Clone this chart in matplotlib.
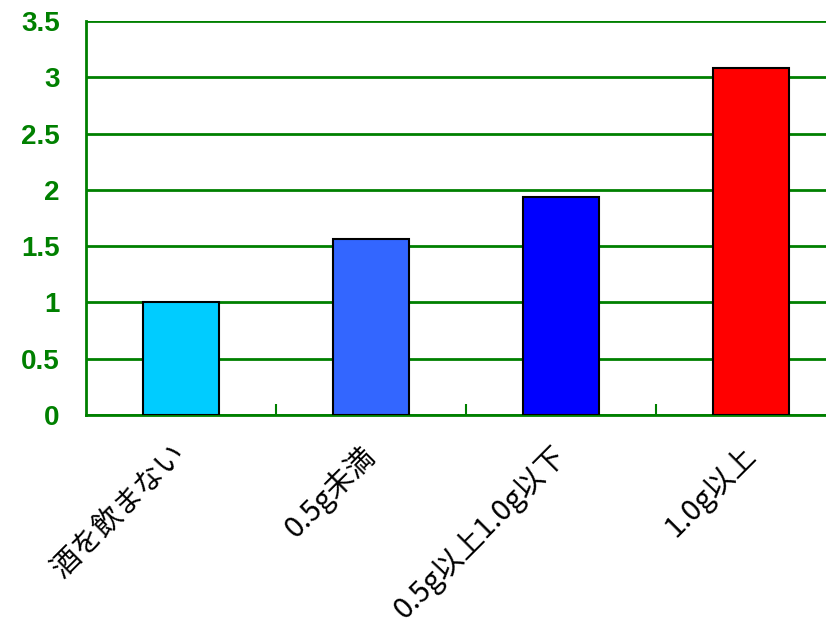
import matplotlib
matplotlib.use("Agg")
import matplotlib.pyplot as plt
from matplotlib.transforms import ScaledTranslation

categories = ["酒を飲まない", "0.5g未満", "0.5g以上1.0g以下", "1.0g以上"]
values = [1.0, 1.56, 1.94, 3.08]
bar_colors = ["#00CCFF", "#3366FF", "#0000FF", "#FF0000"]
y_ticks = [0, 0.5, 1, 1.5, 2, 2.5, 3, 3.5]
y_tick_labels = ["0", "0.5", "1", "1.5", "2", "2.5", "3", "3.5"]

green = "#008000"

fig = plt.figure(figsize=(8.26, 6.3), dpi=100)
ax = fig.add_axes([0.1041, 0.3413, 0.920, 0.6254])

x = range(len(categories))
ax.bar(x, values, width=0.4, color=bar_colors, edgecolor="black", linewidth=1.5, zorder=3)

ax.set_xlim(-0.5, len(categories) - 0.5)
ax.set_ylim(0, 3.5)
ax.set_yticks(y_ticks)
ax.set_yticklabels(y_tick_labels, fontsize=20, fontweight="bold", color=green,
                   family=["Liberation Sans", "DejaVu Sans"])
ax.yaxis.grid(True, color=green, linewidth=2, zorder=0)
ax.set_axisbelow(True)

# category ticks sit on the slot boundaries, labels go under the bar centres
ax.set_xticks([i + 0.5 for i in range(len(categories) - 1)])
ax.set_xticklabels([])
ax.set_xticks(list(x), minor=True)
ax.set_xticklabels(categories, minor=True, rotation=45, ha="right",
                   fontsize=21, family=["Noto Sans CJK JP", "DejaVu Sans"])
ax.tick_params(axis="x", which="major", direction="in", length=8, color=green, width=1.5)
ax.tick_params(axis="x", which="minor", length=0, pad=18)
ax.tick_params(axis="y", direction="in", length=0, pad=19)

# nudge the rotated labels so their upper end sits under the bar centre
shift = ScaledTranslation(8 / 72, 0, fig.dpi_scale_trans)
for label in ax.get_xticklabels(minor=True):
    label.set_transform(label.get_transform() + shift)

for side in ["top", "right"]:
    ax.spines[side].set_visible(False)
for side in ["left", "bottom"]:
    ax.spines[side].set_color(green)
    ax.spines[side].set_linewidth(2)

fig.savefig("out.png", dpi=100)
